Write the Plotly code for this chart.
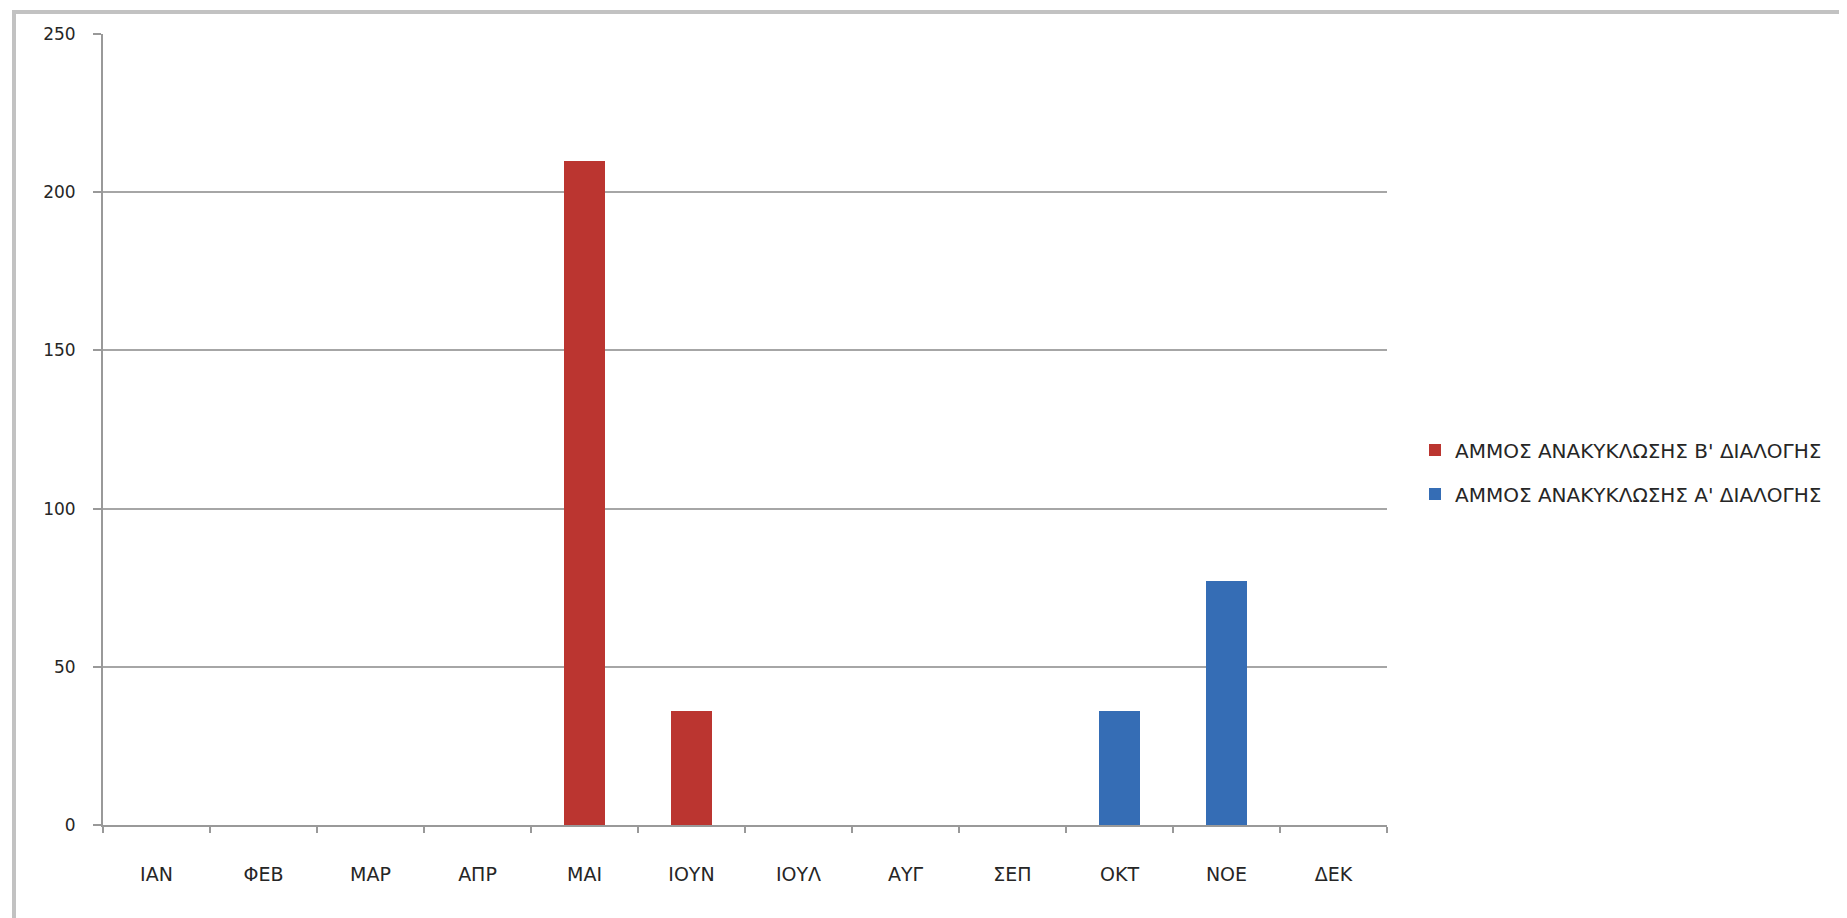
import plotly.graph_objects as go

months = ["ΙΑΝ", "ΦΕΒ", "ΜΑΡ", "ΑΠΡ", "ΜΑΙ", "ΙΟΥΝ", "ΙΟΥΛ", "ΑΥΓ", "ΣΕΠ", "ΟΚΤ", "ΝΟΕ", "ΔΕΚ"]
series_b_name = "ΑΜΜΟΣ ΑΝΑΚΥΚΛΩΣΗΣ Β' ΔΙΑΛΟΓΗΣ"
series_b = [0, 0, 0, 0, 210, 36, 0, 0, 0, 0, 0, 0]
series_a_name = "ΑΜΜΟΣ ΑΝΑΚΥΚΛΩΣΗΣ Α' ΔΙΑΛΟΓΗΣ"
series_a = [0, 0, 0, 0, 0, 0, 0, 0, 0, 36, 77, 0]
y_ticks = [0, 50, 100, 150, 200, 250]

W, H = 1847, 918
ML, MR, MT, MB = 95, 468, 26, 101
pw = W - ML - MR
ph = H - MT - MB

def px_x(x):
    return (x - ML) / pw

def px_y(y):
    return 1 - (y - MT) / ph

font_family = "DejaVu Sans, sans-serif"

fig = go.Figure()
fig.add_trace(go.Bar(
    x=months, y=series_b, name=series_b_name,
    marker=dict(color="#bb3530", line=dict(width=0)),
    legendgroup="b",
))
fig.add_trace(go.Bar(
    x=months, y=series_a, name=series_a_name,
    marker=dict(color="#356db5", line=dict(width=0)),
    legendgroup="a",
))

fig.update_layout(
    width=W, height=H,
    margin=dict(l=ML, r=MR, t=MT, b=MB, autoexpand=False),
    barmode="stack",
    bargap=0.61,
    plot_bgcolor="white",
    paper_bgcolor="white",
    font=dict(family=font_family, size=17, color="#262626"),
    showlegend=True,
    legend=dict(
        x=px_x(1407), xanchor="left",
        y=px_y(464), yanchor="middle",
        traceorder="grouped",
        tracegroupgap=15,
        font=dict(family=font_family, size=20, color="#262626"),
        bgcolor="rgba(0,0,0,0)",
    ),
    xaxis=dict(
        showgrid=False,
        showline=True, linecolor="#999999", linewidth=2,
        ticks="outside", ticklen=6, tickcolor="#999999", tickwidth=2,
        tickson="boundaries",
        tickfont=dict(size=19),
        ticklabelstandoff=31,
    ),
    yaxis=dict(
        range=[0, 250],
        tickvals=y_ticks,
        showgrid=True, gridcolor="#a6a6a6", gridwidth=2,
        showline=True, linecolor="#999999", linewidth=2,
        ticks="outside", ticklen=8, tickcolor="#999999", tickwidth=2,
        tickfont=dict(size=17),
        ticklabelstandoff=14,
        zeroline=False,
    ),
    shapes=[
        dict(type="line", xref="paper", yref="paper",
             x0=px_x(6), y0=px_y(H + 5), x1=px_x(6), y1=px_y(4),
             line=dict(color="#c2c2c2", width=4)),
        dict(type="line", xref="paper", yref="paper",
             x0=px_x(4), y0=px_y(4), x1=px_x(W + 5), y1=px_y(4),
             line=dict(color="#c2c2c2", width=4)),
    ],
)

fig.write_html("out.html")
